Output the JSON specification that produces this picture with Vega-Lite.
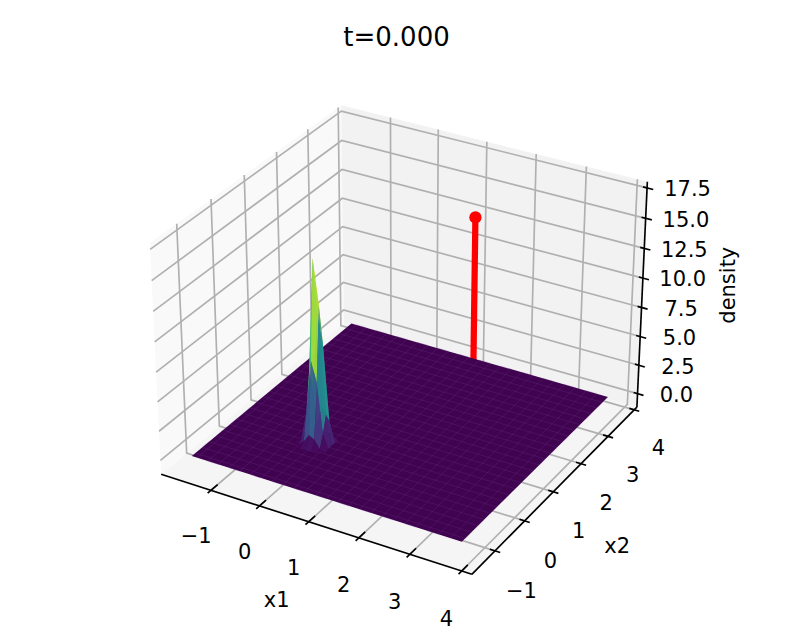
{"$schema":"https://vega.github.io/schema/vega-lite/v6.json","width":793,"height":634,"padding":0,"autosize":{"type":"none"},"background":"white",
"title":{"text":"t=0.000","font":"DejaVu Sans","fontSize":26,"fontWeight":"normal","anchor":"middle","offset":-46,"dy":26,"color":"black","baseline":"alphabetic"},
"config":{"view":{"stroke":null}},
"data":{"values":[
{"part":"pane","id":"floor","seq":0,"x1":-2.047,"x2":-1.762,"density":-1.2},{"part":"pane","id":"floor","seq":1,"x1":4.194,"x2":-1.762,"density":-1.2},{"part":"pane","id":"floor","seq":2,"x1":4.194,"x2":4.102,"density":-1.2},{"part":"pane","id":"floor","seq":3,"x1":-2.047,"x2":4.102,"density":-1.2},
{"part":"pane","id":"left","seq":0,"x1":-2.047,"x2":-1.762,"density":-1.2},{"part":"pane","id":"left","seq":1,"x1":-2.047,"x2":4.102,"density":-1.2},{"part":"pane","id":"left","seq":2,"x1":-2.047,"x2":4.102,"density":18},{"part":"pane","id":"left","seq":3,"x1":-2.047,"x2":-1.762,"density":18},
{"part":"pane","id":"back","seq":0,"x1":-2.047,"x2":4.102,"density":-1.2},{"part":"pane","id":"back","seq":1,"x1":4.194,"x2":4.102,"density":-1.2},{"part":"pane","id":"back","seq":2,"x1":4.194,"x2":4.102,"density":18},{"part":"pane","id":"back","seq":3,"x1":-2.047,"x2":4.102,"density":18},
{"part":"grid","id":"a1","seq":0,"x1":-1,"x2":-1.762,"density":-1.2},{"part":"grid","id":"a1","seq":1,"x1":-1,"x2":4.102,"density":-1.2},{"part":"grid","id":"a1","seq":2,"x1":-1,"x2":4.102,"density":18},
{"part":"grid","id":"a2","seq":0,"x1":0,"x2":-1.762,"density":-1.2},{"part":"grid","id":"a2","seq":1,"x1":0,"x2":4.102,"density":-1.2},{"part":"grid","id":"a2","seq":2,"x1":0,"x2":4.102,"density":18},
{"part":"grid","id":"a3","seq":0,"x1":1,"x2":-1.762,"density":-1.2},{"part":"grid","id":"a3","seq":1,"x1":1,"x2":4.102,"density":-1.2},{"part":"grid","id":"a3","seq":2,"x1":1,"x2":4.102,"density":18},
{"part":"grid","id":"a4","seq":0,"x1":2,"x2":-1.762,"density":-1.2},{"part":"grid","id":"a4","seq":1,"x1":2,"x2":4.102,"density":-1.2},{"part":"grid","id":"a4","seq":2,"x1":2,"x2":4.102,"density":18},
{"part":"grid","id":"a5","seq":0,"x1":3,"x2":-1.762,"density":-1.2},{"part":"grid","id":"a5","seq":1,"x1":3,"x2":4.102,"density":-1.2},{"part":"grid","id":"a5","seq":2,"x1":3,"x2":4.102,"density":18},
{"part":"grid","id":"a6","seq":0,"x1":4,"x2":-1.762,"density":-1.2},{"part":"grid","id":"a6","seq":1,"x1":4,"x2":4.102,"density":-1.2},{"part":"grid","id":"a6","seq":2,"x1":4,"x2":4.102,"density":18},
{"part":"grid","id":"b1","seq":0,"x1":4.194,"x2":-1,"density":-1.2},{"part":"grid","id":"b1","seq":1,"x1":-2.047,"x2":-1,"density":-1.2},{"part":"grid","id":"b1","seq":2,"x1":-2.047,"x2":-1,"density":18},
{"part":"grid","id":"b2","seq":0,"x1":4.194,"x2":0,"density":-1.2},{"part":"grid","id":"b2","seq":1,"x1":-2.047,"x2":0,"density":-1.2},{"part":"grid","id":"b2","seq":2,"x1":-2.047,"x2":0,"density":18},
{"part":"grid","id":"b3","seq":0,"x1":4.194,"x2":1,"density":-1.2},{"part":"grid","id":"b3","seq":1,"x1":-2.047,"x2":1,"density":-1.2},{"part":"grid","id":"b3","seq":2,"x1":-2.047,"x2":1,"density":18},
{"part":"grid","id":"b4","seq":0,"x1":4.194,"x2":2,"density":-1.2},{"part":"grid","id":"b4","seq":1,"x1":-2.047,"x2":2,"density":-1.2},{"part":"grid","id":"b4","seq":2,"x1":-2.047,"x2":2,"density":18},
{"part":"grid","id":"b5","seq":0,"x1":4.194,"x2":3,"density":-1.2},{"part":"grid","id":"b5","seq":1,"x1":-2.047,"x2":3,"density":-1.2},{"part":"grid","id":"b5","seq":2,"x1":-2.047,"x2":3,"density":18},
{"part":"grid","id":"b6","seq":0,"x1":4.194,"x2":4,"density":-1.2},{"part":"grid","id":"b6","seq":1,"x1":-2.047,"x2":4,"density":-1.2},{"part":"grid","id":"b6","seq":2,"x1":-2.047,"x2":4,"density":18},
{"part":"grid","id":"c1","seq":0,"x1":-2.047,"x2":-1.762,"density":0},{"part":"grid","id":"c1","seq":1,"x1":-2.047,"x2":4.102,"density":0},{"part":"grid","id":"c1","seq":2,"x1":4.194,"x2":4.102,"density":0},
{"part":"grid","id":"c2","seq":0,"x1":-2.047,"x2":-1.762,"density":2.5},{"part":"grid","id":"c2","seq":1,"x1":-2.047,"x2":4.102,"density":2.5},{"part":"grid","id":"c2","seq":2,"x1":4.194,"x2":4.102,"density":2.5},
{"part":"grid","id":"c3","seq":0,"x1":-2.047,"x2":-1.762,"density":5},{"part":"grid","id":"c3","seq":1,"x1":-2.047,"x2":4.102,"density":5},{"part":"grid","id":"c3","seq":2,"x1":4.194,"x2":4.102,"density":5},
{"part":"grid","id":"c4","seq":0,"x1":-2.047,"x2":-1.762,"density":7.5},{"part":"grid","id":"c4","seq":1,"x1":-2.047,"x2":4.102,"density":7.5},{"part":"grid","id":"c4","seq":2,"x1":4.194,"x2":4.102,"density":7.5},
{"part":"grid","id":"c5","seq":0,"x1":-2.047,"x2":-1.762,"density":10},{"part":"grid","id":"c5","seq":1,"x1":-2.047,"x2":4.102,"density":10},{"part":"grid","id":"c5","seq":2,"x1":4.194,"x2":4.102,"density":10},
{"part":"grid","id":"c6","seq":0,"x1":-2.047,"x2":-1.762,"density":12.5},{"part":"grid","id":"c6","seq":1,"x1":-2.047,"x2":4.102,"density":12.5},{"part":"grid","id":"c6","seq":2,"x1":4.194,"x2":4.102,"density":12.5},
{"part":"grid","id":"c7","seq":0,"x1":-2.047,"x2":-1.762,"density":15},{"part":"grid","id":"c7","seq":1,"x1":-2.047,"x2":4.102,"density":15},{"part":"grid","id":"c7","seq":2,"x1":4.194,"x2":4.102,"density":15},
{"part":"grid","id":"c8","seq":0,"x1":-2.047,"x2":-1.762,"density":17.5},{"part":"grid","id":"c8","seq":1,"x1":-2.047,"x2":4.102,"density":17.5},{"part":"grid","id":"c8","seq":2,"x1":4.194,"x2":4.102,"density":17.5},
{"part":"axis","id":"ax1","seq":0,"x1":-2.047,"x2":-1.762,"density":-1.2},{"part":"axis","id":"ax1","seq":1,"x1":4.194,"x2":-1.762,"density":-1.2},
{"part":"axis","id":"ax2","seq":0,"x1":4.194,"x2":-1.762,"density":-1.2},{"part":"axis","id":"ax2","seq":1,"x1":4.194,"x2":4.102,"density":-1.2},
{"part":"axis","id":"ax3","seq":0,"x1":4.194,"x2":4.102,"density":-1.2},{"part":"axis","id":"ax3","seq":1,"x1":4.194,"x2":4.102,"density":18},
{"part":"axis","id":"ta1","seq":0,"x1":-1,"x2":-1.862,"density":-1.2},{"part":"axis","id":"ta1","seq":1,"x1":-1,"x2":-1.562,"density":-1.2},
{"part":"axis","id":"ta2","seq":0,"x1":0,"x2":-1.862,"density":-1.2},{"part":"axis","id":"ta2","seq":1,"x1":0,"x2":-1.562,"density":-1.2},
{"part":"axis","id":"ta3","seq":0,"x1":1,"x2":-1.862,"density":-1.2},{"part":"axis","id":"ta3","seq":1,"x1":1,"x2":-1.562,"density":-1.2},
{"part":"axis","id":"ta4","seq":0,"x1":2,"x2":-1.862,"density":-1.2},{"part":"axis","id":"ta4","seq":1,"x1":2,"x2":-1.562,"density":-1.2},
{"part":"axis","id":"ta5","seq":0,"x1":3,"x2":-1.862,"density":-1.2},{"part":"axis","id":"ta5","seq":1,"x1":3,"x2":-1.562,"density":-1.2},
{"part":"axis","id":"ta6","seq":0,"x1":4,"x2":-1.862,"density":-1.2},{"part":"axis","id":"ta6","seq":1,"x1":4,"x2":-1.562,"density":-1.2},
{"part":"axis","id":"tb1","seq":0,"x1":4.294,"x2":-1,"density":-1.2},{"part":"axis","id":"tb1","seq":1,"x1":4.094,"x2":-1,"density":-1.2},
{"part":"axis","id":"tb2","seq":0,"x1":4.294,"x2":0,"density":-1.2},{"part":"axis","id":"tb2","seq":1,"x1":4.094,"x2":0,"density":-1.2},
{"part":"axis","id":"tb3","seq":0,"x1":4.294,"x2":1,"density":-1.2},{"part":"axis","id":"tb3","seq":1,"x1":4.094,"x2":1,"density":-1.2},
{"part":"axis","id":"tb4","seq":0,"x1":4.294,"x2":2,"density":-1.2},{"part":"axis","id":"tb4","seq":1,"x1":4.094,"x2":2,"density":-1.2},
{"part":"axis","id":"tb5","seq":0,"x1":4.294,"x2":3,"density":-1.2},{"part":"axis","id":"tb5","seq":1,"x1":4.094,"x2":3,"density":-1.2},
{"part":"axis","id":"tb6","seq":0,"x1":4.294,"x2":4,"density":-1.2},{"part":"axis","id":"tb6","seq":1,"x1":4.094,"x2":4,"density":-1.2},
{"part":"axis","id":"tc1","seq":0,"x1":4.314,"x2":4.102,"density":0},{"part":"axis","id":"tc1","seq":1,"x1":4.114,"x2":4.102,"density":0},
{"part":"axis","id":"tc2","seq":0,"x1":4.314,"x2":4.102,"density":2.5},{"part":"axis","id":"tc2","seq":1,"x1":4.114,"x2":4.102,"density":2.5},
{"part":"axis","id":"tc3","seq":0,"x1":4.314,"x2":4.102,"density":5},{"part":"axis","id":"tc3","seq":1,"x1":4.114,"x2":4.102,"density":5},
{"part":"axis","id":"tc4","seq":0,"x1":4.314,"x2":4.102,"density":7.5},{"part":"axis","id":"tc4","seq":1,"x1":4.114,"x2":4.102,"density":7.5},
{"part":"axis","id":"tc5","seq":0,"x1":4.314,"x2":4.102,"density":10},{"part":"axis","id":"tc5","seq":1,"x1":4.114,"x2":4.102,"density":10},
{"part":"axis","id":"tc6","seq":0,"x1":4.314,"x2":4.102,"density":12.5},{"part":"axis","id":"tc6","seq":1,"x1":4.114,"x2":4.102,"density":12.5},
{"part":"axis","id":"tc7","seq":0,"x1":4.314,"x2":4.102,"density":15},{"part":"axis","id":"tc7","seq":1,"x1":4.114,"x2":4.102,"density":15},
{"part":"axis","id":"tc8","seq":0,"x1":4.314,"x2":4.102,"density":17.5},{"part":"axis","id":"tc8","seq":1,"x1":4.114,"x2":4.102,"density":17.5},
{"part":"label","label":"−1","x1":-1,"x2":-2.242,"density":-4.05},{"part":"label","label":"0","x1":0,"x2":-2.242,"density":-4.05},{"part":"label","label":"1","x1":1,"x2":-2.242,"density":-4.05},{"part":"label","label":"2","x1":2,"x2":-2.242,"density":-4.05},{"part":"label","label":"3","x1":3,"x2":-2.242,"density":-4.05},{"part":"label","label":"4","x1":4,"x2":-2.242,"density":-4.05},
{"part":"label","label":"−1","x1":4.714,"x2":-1,"density":-4},{"part":"label","label":"0","x1":4.714,"x2":0,"density":-4},{"part":"label","label":"1","x1":4.714,"x2":1,"density":-4},{"part":"label","label":"2","x1":4.714,"x2":2,"density":-4},{"part":"label","label":"3","x1":4.714,"x2":3,"density":-4},{"part":"label","label":"4","x1":4.714,"x2":4,"density":-4},
{"part":"label","label":"0.0","x1":4.844,"x2":4.362,"density":0},{"part":"label","label":"2.5","x1":4.844,"x2":4.362,"density":2.5},{"part":"label","label":"5.0","x1":4.844,"x2":4.362,"density":5},{"part":"label","label":"7.5","x1":4.844,"x2":4.362,"density":7.5},{"part":"label","label":"10.0","x1":4.844,"x2":4.362,"density":10},{"part":"label","label":"12.5","x1":4.844,"x2":4.362,"density":12.5},{"part":"label","label":"15.0","x1":4.844,"x2":4.362,"density":15},{"part":"label","label":"17.5","x1":4.844,"x2":4.362,"density":17.5},
{"part":"label","label":"x1","x1":1.22,"x2":-3.09,"density":-4.25},{"part":"label","label":"x2","x1":5.38,"x2":1.17,"density":-4.8},
{"part":"zlabel","label":"density","x1":5.4,"x2":5.112,"density":8.65},
{"part":"red","id":"r","seq":0,"x1":2,"x2":2,"density":0},{"part":"red","id":"r","seq":1,"x1":2,"x2":2,"density":16.9},
{"part":"dot","x1":2,"x2":2,"density":16.9},
{"part":"plane","id":"p","seq":0,"x1":-1.65,"x2":-1.39,"density":0},{"part":"plane","id":"p","seq":1,"x1":3.78,"x2":-1.39,"density":0},{"part":"plane","id":"p","seq":2,"x1":3.78,"x2":3.75,"density":0},{"part":"plane","id":"p","seq":3,"x1":-1.65,"x2":3.75,"density":0},
{"part":"mesh","id":"m1","seq":0,"x1":-1.539,"x2":-1.39},{"part":"mesh","id":"m1","seq":1,"x1":-1.539,"x2":3.75},{"part":"mesh","id":"m1","seq":2,"x1":-1.318,"x2":3.75},{"part":"mesh","id":"m1","seq":3,"x1":-1.318,"x2":-1.39},
{"part":"mesh","id":"m1","seq":4,"x1":-1.096,"x2":-1.39},{"part":"mesh","id":"m1","seq":5,"x1":-1.096,"x2":3.75},{"part":"mesh","id":"m1","seq":6,"x1":-0.874,"x2":3.75},{"part":"mesh","id":"m1","seq":7,"x1":-0.874,"x2":-1.39},
{"part":"mesh","id":"m1","seq":8,"x1":-0.653,"x2":-1.39},{"part":"mesh","id":"m1","seq":9,"x1":-0.653,"x2":3.75},{"part":"mesh","id":"m1","seq":10,"x1":-0.431,"x2":3.75},{"part":"mesh","id":"m1","seq":11,"x1":-0.431,"x2":-1.39},
{"part":"mesh","id":"m1","seq":12,"x1":-0.21,"x2":-1.39},{"part":"mesh","id":"m1","seq":13,"x1":-0.21,"x2":3.75},{"part":"mesh","id":"m1","seq":14,"x1":0.012,"x2":3.75},{"part":"mesh","id":"m1","seq":15,"x1":0.012,"x2":-1.39},
{"part":"mesh","id":"m1","seq":16,"x1":0.234,"x2":-1.39},{"part":"mesh","id":"m1","seq":17,"x1":0.234,"x2":3.75},{"part":"mesh","id":"m1","seq":18,"x1":0.455,"x2":3.75},{"part":"mesh","id":"m1","seq":19,"x1":0.455,"x2":-1.39},
{"part":"mesh","id":"m1","seq":20,"x1":0.677,"x2":-1.39},{"part":"mesh","id":"m1","seq":21,"x1":0.677,"x2":3.75},{"part":"mesh","id":"m1","seq":22,"x1":0.899,"x2":3.75},{"part":"mesh","id":"m1","seq":23,"x1":0.899,"x2":-1.39},
{"part":"mesh","id":"m1","seq":24,"x1":1.12,"x2":-1.39},{"part":"mesh","id":"m1","seq":25,"x1":1.12,"x2":3.75},{"part":"mesh","id":"m1","seq":26,"x1":1.342,"x2":3.75},{"part":"mesh","id":"m1","seq":27,"x1":1.342,"x2":-1.39},
{"part":"mesh","id":"m1","seq":28,"x1":1.563,"x2":-1.39},{"part":"mesh","id":"m1","seq":29,"x1":1.563,"x2":3.75},{"part":"mesh","id":"m1","seq":30,"x1":1.785,"x2":3.75},{"part":"mesh","id":"m1","seq":31,"x1":1.785,"x2":-1.39},
{"part":"mesh","id":"m1","seq":32,"x1":2.007,"x2":-1.39},{"part":"mesh","id":"m1","seq":33,"x1":2.007,"x2":3.75},{"part":"mesh","id":"m1","seq":34,"x1":2.228,"x2":3.75},{"part":"mesh","id":"m1","seq":35,"x1":2.228,"x2":-1.39},
{"part":"mesh","id":"m1","seq":36,"x1":2.45,"x2":-1.39},{"part":"mesh","id":"m1","seq":37,"x1":2.45,"x2":3.75},{"part":"mesh","id":"m1","seq":38,"x1":2.671,"x2":3.75},{"part":"mesh","id":"m1","seq":39,"x1":2.671,"x2":-1.39},
{"part":"mesh","id":"m1","seq":40,"x1":2.893,"x2":-1.39},{"part":"mesh","id":"m1","seq":41,"x1":2.893,"x2":3.75},{"part":"mesh","id":"m1","seq":42,"x1":3.115,"x2":3.75},{"part":"mesh","id":"m1","seq":43,"x1":3.115,"x2":-1.39},
{"part":"mesh","id":"m1","seq":44,"x1":3.336,"x2":-1.39},{"part":"mesh","id":"m1","seq":45,"x1":3.336,"x2":3.75},{"part":"mesh","id":"m1","seq":46,"x1":3.558,"x2":3.75},{"part":"mesh","id":"m1","seq":47,"x1":3.558,"x2":-1.39},
{"part":"mesh","id":"m2","seq":0,"x1":-1.65,"x2":-1.285},{"part":"mesh","id":"m2","seq":1,"x1":3.78,"x2":-1.285},{"part":"mesh","id":"m2","seq":2,"x1":3.78,"x2":-1.075},{"part":"mesh","id":"m2","seq":3,"x1":-1.65,"x2":-1.075},
{"part":"mesh","id":"m2","seq":4,"x1":-1.65,"x2":-0.865},{"part":"mesh","id":"m2","seq":5,"x1":3.78,"x2":-0.865},{"part":"mesh","id":"m2","seq":6,"x1":3.78,"x2":-0.656},{"part":"mesh","id":"m2","seq":7,"x1":-1.65,"x2":-0.656},
{"part":"mesh","id":"m2","seq":8,"x1":-1.65,"x2":-0.446},{"part":"mesh","id":"m2","seq":9,"x1":3.78,"x2":-0.446},{"part":"mesh","id":"m2","seq":10,"x1":3.78,"x2":-0.236},{"part":"mesh","id":"m2","seq":11,"x1":-1.65,"x2":-0.236},
{"part":"mesh","id":"m2","seq":12,"x1":-1.65,"x2":-0.026},{"part":"mesh","id":"m2","seq":13,"x1":3.78,"x2":-0.026},{"part":"mesh","id":"m2","seq":14,"x1":3.78,"x2":0.184},{"part":"mesh","id":"m2","seq":15,"x1":-1.65,"x2":0.184},
{"part":"mesh","id":"m2","seq":16,"x1":-1.65,"x2":0.394},{"part":"mesh","id":"m2","seq":17,"x1":3.78,"x2":0.394},{"part":"mesh","id":"m2","seq":18,"x1":3.78,"x2":0.603},{"part":"mesh","id":"m2","seq":19,"x1":-1.65,"x2":0.603},
{"part":"mesh","id":"m2","seq":20,"x1":-1.65,"x2":0.813},{"part":"mesh","id":"m2","seq":21,"x1":3.78,"x2":0.813},{"part":"mesh","id":"m2","seq":22,"x1":3.78,"x2":1.023},{"part":"mesh","id":"m2","seq":23,"x1":-1.65,"x2":1.023},
{"part":"mesh","id":"m2","seq":24,"x1":-1.65,"x2":1.233},{"part":"mesh","id":"m2","seq":25,"x1":3.78,"x2":1.233},{"part":"mesh","id":"m2","seq":26,"x1":3.78,"x2":1.443},{"part":"mesh","id":"m2","seq":27,"x1":-1.65,"x2":1.443},
{"part":"mesh","id":"m2","seq":28,"x1":-1.65,"x2":1.653},{"part":"mesh","id":"m2","seq":29,"x1":3.78,"x2":1.653},{"part":"mesh","id":"m2","seq":30,"x1":3.78,"x2":1.862},{"part":"mesh","id":"m2","seq":31,"x1":-1.65,"x2":1.862},
{"part":"mesh","id":"m2","seq":32,"x1":-1.65,"x2":2.072},{"part":"mesh","id":"m2","seq":33,"x1":3.78,"x2":2.072},{"part":"mesh","id":"m2","seq":34,"x1":3.78,"x2":2.282},{"part":"mesh","id":"m2","seq":35,"x1":-1.65,"x2":2.282},
{"part":"mesh","id":"m2","seq":36,"x1":-1.65,"x2":2.492},{"part":"mesh","id":"m2","seq":37,"x1":3.78,"x2":2.492},{"part":"mesh","id":"m2","seq":38,"x1":3.78,"x2":2.702},{"part":"mesh","id":"m2","seq":39,"x1":-1.65,"x2":2.702},
{"part":"mesh","id":"m2","seq":40,"x1":-1.65,"x2":2.912},{"part":"mesh","id":"m2","seq":41,"x1":3.78,"x2":2.912},{"part":"mesh","id":"m2","seq":42,"x1":3.78,"x2":3.121},{"part":"mesh","id":"m2","seq":43,"x1":-1.65,"x2":3.121},
{"part":"mesh","id":"m2","seq":44,"x1":-1.65,"x2":3.331},{"part":"mesh","id":"m2","seq":45,"x1":3.78,"x2":3.331},{"part":"mesh","id":"m2","seq":46,"x1":3.78,"x2":3.541},{"part":"mesh","id":"m2","seq":47,"x1":-1.65,"x2":3.541},
{"part":"q","id":1,"seq":0,"x1":-0.22,"x2":0.21,"density":0.119},{"part":"q","id":1,"seq":1,"x1":-0.11,"x2":0.21,"density":1.01},{"part":"q","id":1,"seq":2,"x1":-0.11,"x2":0.315,"density":0.08},{"part":"q","id":1,"seq":3,"x1":-0.22,"x2":0.315,"density":0.009},
{"part":"q","id":2,"seq":0,"x1":-0.11,"x2":0.21,"density":1.01},{"part":"q","id":2,"seq":1,"x1":0,"x2":0.21,"density":2.59},{"part":"q","id":2,"seq":2,"x1":0,"x2":0.315,"density":0.205},{"part":"q","id":2,"seq":3,"x1":-0.11,"x2":0.315,"density":0.08},
{"part":"q","id":3,"seq":0,"x1":0,"x2":0.21,"density":2.59},{"part":"q","id":3,"seq":1,"x1":0.11,"x2":0.21,"density":1.96},{"part":"q","id":3,"seq":2,"x1":0.11,"x2":0.315,"density":0.156},{"part":"q","id":3,"seq":3,"x1":0,"x2":0.315,"density":0.205},
{"part":"q","id":4,"seq":0,"x1":0.11,"x2":0.21,"density":1.96},{"part":"q","id":4,"seq":1,"x1":0.22,"x2":0.21,"density":0.44},{"part":"q","id":4,"seq":2,"x1":0.22,"x2":0.315,"density":0.035},{"part":"q","id":4,"seq":3,"x1":0.11,"x2":0.315,"density":0.156},
{"part":"q","id":5,"seq":0,"x1":-0.33,"x2":0.105,"density":0.017},{"part":"q","id":5,"seq":1,"x1":-0.22,"x2":0.105,"density":0.506},{"part":"q","id":5,"seq":2,"x1":-0.22,"x2":0.21,"density":0.119},{"part":"q","id":5,"seq":3,"x1":-0.33,"x2":0.21,"density":0.004},
{"part":"q","id":6,"seq":0,"x1":-0.22,"x2":0.105,"density":0.506},{"part":"q","id":6,"seq":1,"x1":-0.11,"x2":0.105,"density":4.31},{"part":"q","id":6,"seq":2,"x1":-0.11,"x2":0.21,"density":1.01},{"part":"q","id":6,"seq":3,"x1":-0.22,"x2":0.21,"density":0.119},
{"part":"q","id":7,"seq":0,"x1":-0.11,"x2":0.105,"density":4.31},{"part":"q","id":7,"seq":1,"x1":0,"x2":0.105,"density":10.99},{"part":"q","id":7,"seq":2,"x1":0,"x2":0.21,"density":2.59},{"part":"q","id":7,"seq":3,"x1":-0.11,"x2":0.21,"density":1.01},
{"part":"q","id":8,"seq":0,"x1":0,"x2":0.105,"density":10.99},{"part":"q","id":8,"seq":1,"x1":0.11,"x2":0.105,"density":8.35},{"part":"q","id":8,"seq":2,"x1":0.11,"x2":0.21,"density":1.96},{"part":"q","id":8,"seq":3,"x1":0,"x2":0.21,"density":2.59},
{"part":"q","id":9,"seq":0,"x1":0.11,"x2":0.105,"density":8.35},{"part":"q","id":9,"seq":1,"x1":0.22,"x2":0.105,"density":1.89},{"part":"q","id":9,"seq":2,"x1":0.22,"x2":0.21,"density":0.44},{"part":"q","id":9,"seq":3,"x1":0.11,"x2":0.21,"density":1.96},
{"part":"q","id":10,"seq":0,"x1":0.22,"x2":0.105,"density":1.89},{"part":"q","id":10,"seq":1,"x1":0.33,"x2":0.105,"density":0.125},{"part":"q","id":10,"seq":2,"x1":0.33,"x2":0.21,"density":0.03},{"part":"q","id":10,"seq":3,"x1":0.22,"x2":0.21,"density":0.44},
{"part":"q","id":11,"seq":0,"x1":-0.33,"x2":0,"density":0.024},{"part":"q","id":11,"seq":1,"x1":-0.22,"x2":0,"density":0.71},{"part":"q","id":11,"seq":2,"x1":-0.22,"x2":0.105,"density":0.506},{"part":"q","id":11,"seq":3,"x1":-0.33,"x2":0.105,"density":0.017},
{"part":"q","id":12,"seq":0,"x1":-0.22,"x2":0,"density":0.71},{"part":"q","id":12,"seq":1,"x1":-0.11,"x2":0,"density":6.06},{"part":"q","id":12,"seq":2,"x1":-0.11,"x2":0.105,"density":4.31},{"part":"q","id":12,"seq":3,"x1":-0.22,"x2":0.105,"density":0.506},
{"part":"q","id":13,"seq":0,"x1":-0.11,"x2":0,"density":6.06},{"part":"q","id":13,"seq":1,"x1":0,"x2":0,"density":15.46},{"part":"q","id":13,"seq":2,"x1":0,"x2":0.105,"density":10.99},{"part":"q","id":13,"seq":3,"x1":-0.11,"x2":0.105,"density":4.31},
{"part":"q","id":14,"seq":0,"x1":0,"x2":0,"density":15.46},{"part":"q","id":14,"seq":1,"x1":0.11,"x2":0,"density":11.74},{"part":"q","id":14,"seq":2,"x1":0.11,"x2":0.105,"density":8.35},{"part":"q","id":14,"seq":3,"x1":0,"x2":0.105,"density":10.99},
{"part":"q","id":15,"seq":0,"x1":0.11,"x2":0,"density":11.74},{"part":"q","id":15,"seq":1,"x1":0.22,"x2":0,"density":2.65},{"part":"q","id":15,"seq":2,"x1":0.22,"x2":0.105,"density":1.89},{"part":"q","id":15,"seq":3,"x1":0.11,"x2":0.105,"density":8.35},
{"part":"q","id":16,"seq":0,"x1":0.22,"x2":0,"density":2.65},{"part":"q","id":16,"seq":1,"x1":0.33,"x2":0,"density":0.177},{"part":"q","id":16,"seq":2,"x1":0.33,"x2":0.105,"density":0.125},{"part":"q","id":16,"seq":3,"x1":0.22,"x2":0.105,"density":1.89},
{"part":"q","id":17,"seq":0,"x1":-0.33,"x2":-0.105,"density":0.011},{"part":"q","id":17,"seq":1,"x1":-0.22,"x2":-0.105,"density":0.333},{"part":"q","id":17,"seq":2,"x1":-0.22,"x2":0,"density":0.71},{"part":"q","id":17,"seq":3,"x1":-0.33,"x2":0,"density":0.024},
{"part":"q","id":18,"seq":0,"x1":-0.22,"x2":-0.105,"density":0.333},{"part":"q","id":18,"seq":1,"x1":-0.11,"x2":-0.105,"density":2.83},{"part":"q","id":18,"seq":2,"x1":-0.11,"x2":0,"density":6.06},{"part":"q","id":18,"seq":3,"x1":-0.22,"x2":0,"density":0.71},
{"part":"q","id":19,"seq":0,"x1":-0.11,"x2":-0.105,"density":2.83},{"part":"q","id":19,"seq":1,"x1":0,"x2":-0.105,"density":7.22},{"part":"q","id":19,"seq":2,"x1":0,"x2":0,"density":15.46},{"part":"q","id":19,"seq":3,"x1":-0.11,"x2":0,"density":6.06},
{"part":"q","id":20,"seq":0,"x1":0,"x2":-0.105,"density":7.22},{"part":"q","id":20,"seq":1,"x1":0.11,"x2":-0.105,"density":5.49},{"part":"q","id":20,"seq":2,"x1":0.11,"x2":0,"density":11.74},{"part":"q","id":20,"seq":3,"x1":0,"x2":0,"density":15.46},
{"part":"q","id":21,"seq":0,"x1":0.11,"x2":-0.105,"density":5.49},{"part":"q","id":21,"seq":1,"x1":0.22,"x2":-0.105,"density":1.24},{"part":"q","id":21,"seq":2,"x1":0.22,"x2":0,"density":2.65},{"part":"q","id":21,"seq":3,"x1":0.11,"x2":0,"density":11.74},
{"part":"q","id":22,"seq":0,"x1":0.22,"x2":-0.105,"density":1.24},{"part":"q","id":22,"seq":1,"x1":0.33,"x2":-0.105,"density":0.083},{"part":"q","id":22,"seq":2,"x1":0.33,"x2":0,"density":0.177},{"part":"q","id":22,"seq":3,"x1":0.22,"x2":0,"density":2.65},
{"part":"q","id":23,"seq":0,"x1":-0.33,"x2":-0.21,"density":0.002},{"part":"q","id":23,"seq":1,"x1":-0.22,"x2":-0.21,"density":0.052},{"part":"q","id":23,"seq":2,"x1":-0.22,"x2":-0.105,"density":0.333},{"part":"q","id":23,"seq":3,"x1":-0.33,"x2":-0.105,"density":0.011},
{"part":"q","id":24,"seq":0,"x1":-0.22,"x2":-0.21,"density":0.052},{"part":"q","id":24,"seq":1,"x1":-0.11,"x2":-0.21,"density":0.44},{"part":"q","id":24,"seq":2,"x1":-0.11,"x2":-0.105,"density":2.83},{"part":"q","id":24,"seq":3,"x1":-0.22,"x2":-0.105,"density":0.333},
{"part":"q","id":25,"seq":0,"x1":-0.11,"x2":-0.21,"density":0.44},{"part":"q","id":25,"seq":1,"x1":0,"x2":-0.21,"density":1.12},{"part":"q","id":25,"seq":2,"x1":0,"x2":-0.105,"density":7.22},{"part":"q","id":25,"seq":3,"x1":-0.11,"x2":-0.105,"density":2.83},
{"part":"q","id":26,"seq":0,"x1":0,"x2":-0.21,"density":1.12},{"part":"q","id":26,"seq":1,"x1":0.11,"x2":-0.21,"density":0.85},{"part":"q","id":26,"seq":2,"x1":0.11,"x2":-0.105,"density":5.49},{"part":"q","id":26,"seq":3,"x1":0,"x2":-0.105,"density":7.22},
{"part":"q","id":27,"seq":0,"x1":0.11,"x2":-0.21,"density":0.85},{"part":"q","id":27,"seq":1,"x1":0.22,"x2":-0.21,"density":0.19},{"part":"q","id":27,"seq":2,"x1":0.22,"x2":-0.105,"density":1.24},{"part":"q","id":27,"seq":3,"x1":0.11,"x2":-0.105,"density":5.49},
{"part":"q","id":28,"seq":0,"x1":0.22,"x2":-0.21,"density":0.19},{"part":"q","id":28,"seq":1,"x1":0.33,"x2":-0.21,"density":0.013},{"part":"q","id":28,"seq":2,"x1":0.33,"x2":-0.105,"density":0.083},{"part":"q","id":28,"seq":3,"x1":0.22,"x2":-0.105,"density":1.24},
{"part":"q","id":29,"seq":0,"x1":-0.22,"x2":-0.315,"density":0.003},{"part":"q","id":29,"seq":1,"x1":-0.11,"x2":-0.315,"density":0.023},{"part":"q","id":29,"seq":2,"x1":-0.11,"x2":-0.21,"density":0.44},{"part":"q","id":29,"seq":3,"x1":-0.22,"x2":-0.21,"density":0.052},
{"part":"q","id":30,"seq":0,"x1":-0.11,"x2":-0.315,"density":0.023},{"part":"q","id":30,"seq":1,"x1":0,"x2":-0.315,"density":0.058},{"part":"q","id":30,"seq":2,"x1":0,"x2":-0.21,"density":1.12},{"part":"q","id":30,"seq":3,"x1":-0.11,"x2":-0.21,"density":0.44},
{"part":"q","id":31,"seq":0,"x1":0,"x2":-0.315,"density":0.058},{"part":"q","id":31,"seq":1,"x1":0.11,"x2":-0.315,"density":0.044},{"part":"q","id":31,"seq":2,"x1":0.11,"x2":-0.21,"density":0.85},{"part":"q","id":31,"seq":3,"x1":0,"x2":-0.21,"density":1.12},
{"part":"q","id":32,"seq":0,"x1":0.11,"x2":-0.315,"density":0.044},{"part":"q","id":32,"seq":1,"x1":0.22,"x2":-0.315,"density":0.01},{"part":"q","id":32,"seq":2,"x1":0.22,"x2":-0.21,"density":0.19},{"part":"q","id":32,"seq":3,"x1":0.11,"x2":-0.21,"density":0.85}
]},
"transform":[
{"calculate":"1.1905*((datum.x1+2.047)/6.241-0.5)","as":"dx"},
{"calculate":"1.1905*((datum.x2+1.762)/5.864-0.5)","as":"dy"},
{"calculate":"0.8929*(((datum.density||0)+1.2)/19.2-0.5)","as":"dz"},
{"calculate":"10-(0.433*datum.dx-0.75*datum.dy+0.5*datum.dz)","as":"depth"},
{"calculate":"403.4+2990*(0.866*datum.dx+0.5*datum.dy)/datum.depth","as":"sx"},
{"calculate":"328.5-2950*(-0.25*datum.dx+0.433*datum.dy+0.866*datum.dz)/datum.depth","as":"sy"}
],
"encoding":{
"x":{"field":"sx","type":"quantitative","scale":{"domain":[0,793],"nice":false,"zero":false},"axis":null},
"y":{"field":"sy","type":"quantitative","scale":{"domain":[634,0],"nice":false,"zero":false},"axis":null}
},
"layer":[
{"transform":[{"filter":"datum.part==='pane'"}],"mark":{"type":"line","strokeWidth":0,"clip":false},"encoding":{"order":{"field":"seq","type":"quantitative"},"detail":{"field":"id"},"fill":{"field":"id","type":"nominal","legend":null,"scale":{"domain":["floor","left","back"],"range":["#f5f5f5","#f9f9f9","#f2f2f2"]}}}},
{"transform":[{"filter":"datum.part==='grid'"}],"mark":{"type":"line","stroke":"#b0b0b0","strokeWidth":1.67},"encoding":{"order":{"field":"seq","type":"quantitative"},"detail":{"field":"id"}}},
{"transform":[{"filter":"datum.part==='axis'"}],"mark":{"type":"line","stroke":"black","strokeWidth":1.67},"encoding":{"order":{"field":"seq","type":"quantitative"},"detail":{"field":"id"}}},
{"transform":[{"filter":"datum.part==='red'"}],"mark":{"type":"line","stroke":"#ff0000","strokeWidth":6.25},"encoding":{"order":{"field":"seq","type":"quantitative"},"detail":{"field":"id"}}},
{"transform":[{"filter":"datum.part==='dot'"}],"mark":{"type":"point","filled":true,"fill":"#ff0000","stroke":null,"opacity":1,"size":150,"shape":"circle"}},
{"transform":[{"filter":"datum.part==='plane'"}],"mark":{"type":"line","strokeWidth":0,"fill":"#3f0350"},"encoding":{"order":{"field":"seq","type":"quantitative"},"detail":{"field":"id"}}},
{"transform":[{"filter":"datum.part==='mesh'"}],"mark":{"type":"line","stroke":"#7a3a90","strokeWidth":0.9,"opacity":0.28},"encoding":{"order":{"field":"seq","type":"quantitative"},"detail":{"field":"id"}}},
{"transform":[{"filter":"datum.part==='q'"},{"joinaggregate":[{"op":"mean","field":"density","as":"meanDensity"}],"groupby":["id"]}],"mark":{"type":"line","strokeWidth":0,"fillOpacity":0.92},"encoding":{"order":{"field":"seq","type":"quantitative"},"detail":{"field":"id"},"fill":{"field":"meanDensity","type":"quantitative","legend":null,"scale":{"scheme":"viridis","domain":[0,11.64]}}}},
{"transform":[{"filter":"datum.part==='label'"}],"mark":{"type":"text","font":"DejaVu Sans","fontSize":21,"color":"black","align":"center","baseline":"middle"},"encoding":{"text":{"field":"label"}}},
{"transform":[{"filter":"datum.part==='zlabel'"}],"mark":{"type":"text","font":"DejaVu Sans","fontSize":21,"color":"black","align":"center","baseline":"middle","angle":270},"encoding":{"text":{"field":"label"}}}
]}
